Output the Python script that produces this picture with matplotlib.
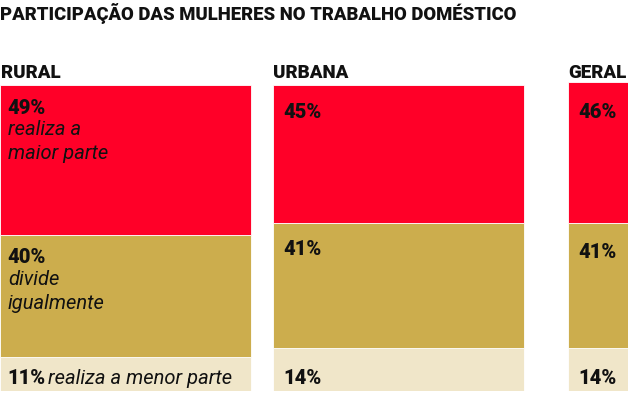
import matplotlib
matplotlib.use("Agg")
import matplotlib.pyplot as plt

title = "PARTICIPAÇÃO DAS MULHERES NO TRABALHO DOMÉSTICO"
groups = ["RURAL", "URBANA", "GERAL"]
maior = [49, 45, 46]
igual = [40, 41, 41]
menor = [11, 14, 14]
desc_maior = "realiza a\nmaior parte"
desc_igual = "divide\nigualmente"
desc_menor = "realiza a menor parte"

colors = ["#FF0028", "#CCAD4D", "#F0E6C9"]

W, H = 628, 393
fig = plt.figure(figsize=(W / 100, H / 100), dpi=100)
ax = fig.add_axes([0, 2 / H, 1, 309 / H])
ax.set_xlim(0, W)
ax.set_ylim(0, 101)
ax.axis("off")

lefts = [0, 273, 568]
width = 251
num_font = dict(family="Roboto", weight="heavy", size=14.5, color="#111111")
desc_font = dict(family="Roboto", style="italic", weight="normal", size=14.5, color="#111111")
head_font = dict(family="Roboto", weight="heavy", color="#111111")
xoffs = [7, 10, 10]
yoffs = [23, 27, 30]

for i, g in enumerate(groups):
    segs = [menor[i], igual[i], maior[i]]
    bottom = 0
    tops = []
    for v, c in zip(segs, [colors[2], colors[1], colors[0]]):
        ax.bar(lefts[i], v, width=width, bottom=bottom, align="edge", color=c,
               edgecolor="white", linewidth=0.6)
        bottom += v
        tops.append(bottom)
    x = lefts[i]
    total = tops[-1]
    ax.annotate(f"{maior[i]}%", (x, total), xytext=(xoffs[i], -yoffs[i]),
                textcoords="offset pixels", va="center", ha="left", **num_font)
    ax.annotate(f"{igual[i]}%", (x, tops[1]), xytext=(xoffs[i], -yoffs[i]),
                textcoords="offset pixels", va="center", ha="left", **num_font)
    ax.annotate(f"{menor[i]}%", (x, 0), xytext=(xoffs[i], 13),
                textcoords="offset pixels", va="center", ha="left", **num_font)
    ax.annotate(g, (x, 100), xytext=(1 if i == 0 else 0, 12),
                textcoords="offset pixels", va="center", ha="left",
                size=13.5, annotation_clip=False, **head_font)
    if i == 0:
        ax.annotate(desc_maior, (x, total), xytext=(xoffs[i] + 1, -35),
                    textcoords="offset pixels", va="top", ha="left",
                    linespacing=1.32, **desc_font)
        ax.annotate(desc_igual, (x, tops[1]), xytext=(xoffs[i] + 1, -35),
                    textcoords="offset pixels", va="top", ha="left",
                    linespacing=1.32, **desc_font)
        ax.annotate(desc_menor, (x, 0), xytext=(48, 13),
                    textcoords="offset pixels", va="center", ha="left", **desc_font)

fig.text(0, 1 - 13 / H, title, ha="left", va="center", size=13.3, **head_font)

fig.savefig("out.png", dpi=100)
